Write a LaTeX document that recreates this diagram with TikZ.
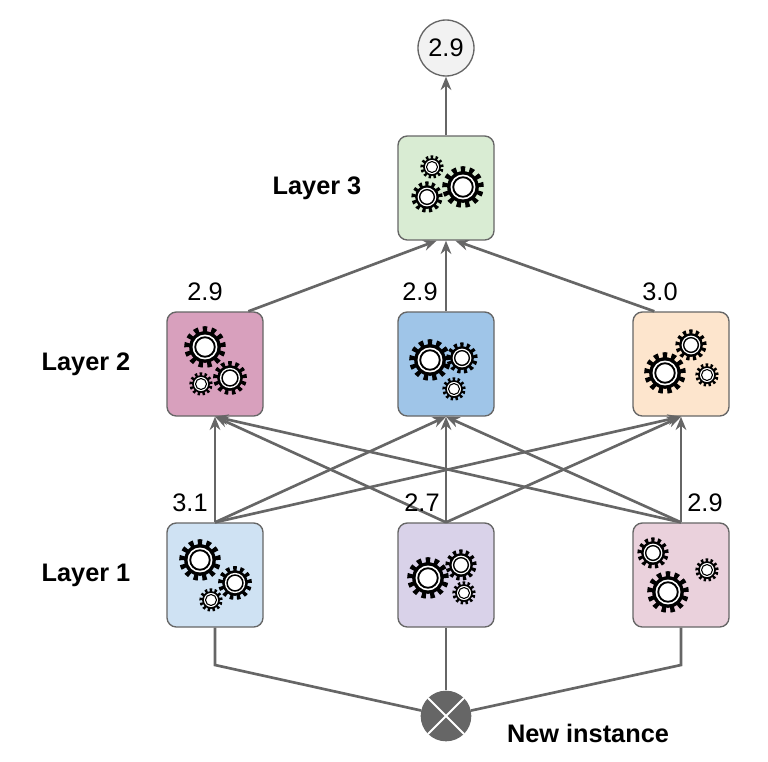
\documentclass[tikz,border=0pt]{standalone}
\usepackage{fontspec}
\setmainfont{Liberation Sans}
\usetikzlibrary{arrows.meta}
\definecolor{ln}{HTML}{666666}
\newcommand{\gear}[3]{%
  \pgfmathsetmacro{\gr}{#3*1.3*0.75}%
  \pgfmathsetmacro{\gd}{2*3.14159*0.86*\gr/26}%
  \fill (#1,#2) circle[radius=0.76*\gr pt];
  \draw[line width=0.28*\gr pt, dash pattern=on \gd pt off \gd pt] (#1,#2) circle[radius=0.86*\gr pt];
  \fill[white] (#1,#2) circle[radius=0.6*\gr pt];
  \draw[line width=0.09*\gr pt] (#1,#2) circle[radius=0.47*\gr pt];
}
\begin{document}
\begin{tikzpicture}[x=0.75pt,y=-0.75pt,
  box/.style={draw=ln, line width=1pt, rounded corners=7pt, minimum width=72pt, minimum height=78pt, inner sep=0pt},
  con/.style={draw=ln, line width=2pt},
  arr/.style={con, -{Stealth[length=10pt,width=8pt]}},
  num/.style={font=\fontsize{19}{19}\selectfont},
  lay/.style={font=\bfseries\fontsize{19}{19}\selectfont}]
\useasboundingbox (0,0) rectangle (768,761);
\node[draw=ln, line width=1pt, fill=gray!10, circle, minimum size=42pt, inner sep=0pt, num] (out) at (446,48) {2.9};
\node[box, fill={rgb,255:red,217;green,236;blue,211}] (c) at (446,188) {};
\node[box, fill={rgb,255:red,216;green,160;blue,189}] (b1) at (215,364) {};
\node[box, fill={rgb,255:red,159;green,197;blue,232}] (b2) at (446,364) {};
\node[box, fill={rgb,255:red,253;green,229;blue,205}] (b3) at (681,364) {};
\node[box, fill={rgb,255:red,207;green,226;blue,243}] (a1) at (215,575) {};
\node[box, fill={rgb,255:red,217;green,210;blue,233}] (a2) at (446,575) {};
\node[box, fill={rgb,255:red,234;green,209;blue,220}] (a3) at (681,575) {};
\node[circle, fill=ln, minimum size=38pt, inner sep=0pt] (inst) at (446,716) {};
\draw[white, line width=1.5pt] (inst.45) -- (inst.225) (inst.135) -- (inst.315);
\coordinate (k1) at (215,665);
\coordinate (k3) at (681,665);
\draw[con] (a1.south) -- (k1) -- (inst);
\draw[con] (a3.south) -- (k3) -- (inst);
\draw[con] (a2.south) -- (inst);
\foreach \i in {a1,a2,a3}{\foreach \j in {b1,b2,b3}{\draw[arr] (\i.north) -- (\j.south);}}
\draw[arr] ([xshift=25pt]b1.north) -- ([xshift=-7pt]c.south);
\draw[arr] (b2.north) -- (c.south);
\draw[arr] ([xshift=-20pt]b3.north) -- ([xshift=7pt]c.south);
\draw[arr] (c.north) -- (out.south);
\gear{432}{167}{9}\gear{427}{197}{12}\gear{463}{187}{16}
\gear{205}{347}{16}\gear{201}{384}{9}\gear{230}{378}{13}
\gear{430}{360}{16}\gear{462}{358}{12}\gear{454}{389}{9}
\gear{691}{345}{12}\gear{665}{373}{16}\gear{707}{375}{9}
\gear{200}{560}{16}\gear{235}{583}{13}\gear{211}{600}{9}
\gear{428}{578}{16}\gear{461}{565}{12}\gear{464}{593}{9}
\gear{653}{553}{12}\gear{707}{570}{9}\gear{668}{592}{16}
\node[num] (l21) at (205,292) {2.9};
\node[num] (l22) at (420,292) {2.9};
\node[num] (l23) at (660,292) {3.0};
\node[num] (l11) at (190,503) {3.1};
\node[num] (l12) at (422,503) {2.7};
\node[num] (l13) at (705,503) {2.9};
\node[lay] (t3) at (317,188) {Layer 3};
\node[lay] (t2) at (86,364) {Layer 2};
\node[lay] (t1) at (86,575) {Layer 1};
\node[lay] (tn) at (588,733) {New instance};
\end{tikzpicture}
\end{document}
